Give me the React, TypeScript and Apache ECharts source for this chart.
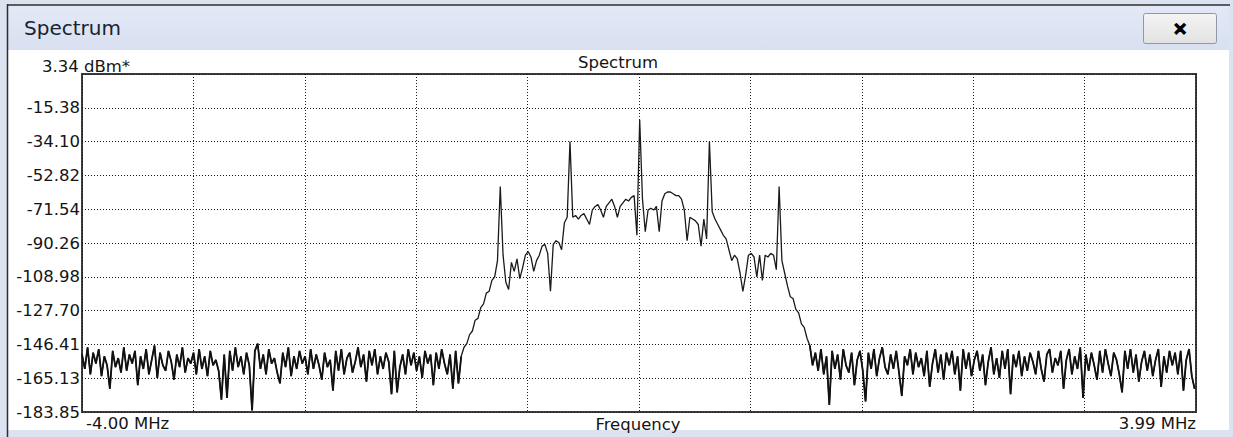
import React, { useEffect, useRef } from "react";
import * as echarts from "echarts";

// ---- data ----
const freqStart = -4.0; // MHz
const freqStep = 0.02; // MHz per bin
const freqMin = -4.0;
const freqMax = 3.99;
const levelMin = -183.85;
const levelMax = 3.34;
const levelUnit = "dBm*";
const freqUnit = "MHz";
const xAxisTitle = "Frequency";
const chartTitle = "Spectrum";
const yTickValues = [-183.85, -165.13, -146.41, -127.7, -108.98, -90.26, -71.54, -52.82, -34.1, -15.38];
const xLabelValues = [-4.0, 3.99];

// noise floor, -4.00 .. -1.28 MHz
const noiseLeft = [
  -152, -160, -148, -163, -151, -157, -149, -164, -153, -158,
  -171, -150, -159, -154, -162, -148, -161, -152, -157, -150,
  -169, -153, -160, -149, -163, -155, -147, -165, -151, -158,
  -161, -150, -156, -166, -152, -159, -148, -162, -154, -157,
  -151, -163, -149, -160, -153, -164, -150, -158, -155, -161,
  -177, -152, -176, -150, -161, -148, -159, -153, -163, -151,
  -158, -183, -150, -146, -160, -152, -163, -149, -157, -154,
  -162, -168, -151, -159, -148, -164, -153, -160, -150, -157,
  -153, -163, -149, -160, -152, -158, -166, -151, -159, -155,
  -172, -150, -161, -149, -163, -154, -151, -162, -156, -148,
  -159, -152, -167, -150, -158, -149, -163, -153, -160, -151,
  -156, -174, -150, -173, -159, -152, -163, -149, -158, -151,
  -161, -153, -165, -150, -157, -152, -169, -151, -160, -149,
  -157, -163, -152, -171, -150, -168, -153,
];

// occupied band, -1.26 .. 1.20 MHz
const bandLevels = [
  -148, -146, -141, -139, -133, -132, -126, -124, -118, -117,
  -111, -109, -100, -59, -97, -112, -116, -101, -106, -99,
  -110, -104, -97, -95, -98, -106, -100, -97, -92, -91,
  -96, -117, -91, -89, -90, -94, -79, -76, -34, -76,
  -75, -77, -75, -74, -77, -80, -72, -70, -69, -72,
  -76, -70, -68, -66, -70, -76, -70, -68, -66, -67,
  -65, -64, -86, -22, -66, -84, -72, -71, -72, -70,
  -84, -67, -63, -62, -62, -63, -64, -64, -66, -72,
  -89, -76, -77, -78, -80, -92, -77, -88, -34, -73,
  -77, -80, -83, -86, -88, -94, -100, -97, -99, -107,
  -117, -108, -97, -96, -98, -109, -97, -111, -97, -98,
  -96, -97, -105, -59, -100, -107, -114, -120, -121, -127,
  -129, -135, -137, -143,
];

// noise floor, 1.22 .. 3.98 MHz
const noiseRight = [
  -147, -158, -151, -161, -149, -163, -153, -180, -150, -160,
  -152, -166, -149, -158, -162, -151, -169, -155, -150, -161,
  -178, -151, -160, -149, -164, -154, -148, -159, -163, -152,
  -160, -150, -162, -175, -153, -158, -149, -163, -151, -159,
  -154, -164, -150, -170, -157, -149, -162, -152, -166, -151,
  -158, -150, -163, -153, -172, -149, -160, -151, -164, -155,
  -150, -161, -152, -169, -156, -148, -163, -154, -165, -150,
  -160, -149, -174, -152, -159, -150, -164, -153, -161, -151,
  -156, -163, -150, -160, -167, -152, -149, -162, -154, -158,
  -150, -171, -155, -149, -163, -153, -160, -148, -176, -152,
  -161, -151, -158, -166, -150, -162, -149, -157, -164, -151,
  -155, -163, -173, -150, -160, -149, -162, -152, -167, -156,
  -150, -161, -152, -164, -155, -149, -170, -153, -162, -150,
  -158, -151, -163, -150, -172, -155, -149, -164, -171,
];

const FONT = "DejaVu Sans";
const TXT = "#141414";

export default function App() {
  const ref = useRef<HTMLDivElement>(null);
  useEffect(() => {
    if (!ref.current) return;
    const chart = echarts.init(ref.current, undefined, { renderer: "svg" });
    const levels = [...noiseLeft, ...bandLevels, ...noiseRight];
    const freqOf = (i: number) => +(freqStart + i * freqStep).toFixed(2);
    const data = levels.map((v, i) => [freqOf(i), v]);
    const bandFrom = noiseLeft.length;
    const bandTo = noiseLeft.length + bandLevels.length;
    const noiseData = levels.map((v, i) =>
      i < bandFrom || i >= bandTo ? [freqOf(i), v] : [freqOf(i), null]
    );

    const option: any = {
      animation: false,
      backgroundColor: "#dbe2f0",
      textStyle: { fontFamily: FONT },
      title: {
        text: chartTitle,
        left: 618,
        top: 54,
        textAlign: "center",
        padding: 0,
        textStyle: { fontFamily: FONT, fontSize: 16.5, fontWeight: "normal", color: TXT },
      },
      graphic: [
        {
          type: "rect",
          z: -10,
          shape: { x: 8, y: 5, width: 1221, height: 45 },
          style: {
            fill: new echarts.graphic.LinearGradient(0, 0, 0, 1, [
              { offset: 0, color: "#e3e9f6" },
              { offset: 1, color: "#d8e0f1" },
            ]),
          },
        },
        {
          type: "rect",
          z: -10,
          shape: { x: 8, y: 50, width: 1221, height: 380 },
          style: { fill: "#ffffff" },
        },
        {
          type: "line",
          z: -5,
          shape: { x1: 7, y1: 5, x2: 1230, y2: 5 },
          style: { stroke: "#2e2e2e", lineWidth: 1.5 },
        },
        {
          type: "line",
          z: -5,
          shape: { x1: 7.5, y1: 4, x2: 7.5, y2: 437 },
          style: { stroke: "#2e2e2e", lineWidth: 1.5 },
        },
        {
          type: "rect",
          z: -4,
          shape: { x: 1143.5, y: 13.5, width: 73, height: 30, r: 2 },
          style: {
            fill: new echarts.graphic.LinearGradient(0, 0, 0, 1, [
              { offset: 0, color: "#f4f4f4" },
              { offset: 1, color: "#e2e2e2" },
            ]),
            stroke: "#8f98a6",
            lineWidth: 1,
          },
        },
        {
          type: "text",
          z: -3,
          x: 1180,
          y: 29,
          style: {
            text: "\u2715",
            fill: "#000",
            stroke: "#000",
            lineWidth: 1.6,
            font: `bold 17px ${FONT}`,
            align: "center",
            verticalAlign: "middle",
          },
        },
        {
          type: "text",
          z: -3,
          x: 24,
          y: 28,
          style: {
            text: chartTitle,
            fill: "#1b2230",
            font: `20px ${FONT}`,
            align: "left",
            verticalAlign: "middle",
          },
        },
        {
          type: "text",
          z: -3,
          x: 42,
          y: 66,
          style: {
            text: `${levelMax.toFixed(2)} ${levelUnit}`,
            fill: TXT,
            font: `16.5px ${FONT}`,
            align: "left",
            verticalAlign: "middle",
          },
        },
        {
          type: "text",
          z: -3,
          x: 638,
          y: 424,
          style: {
            text: xAxisTitle,
            fill: TXT,
            font: `16.5px ${FONT}`,
            align: "center",
            verticalAlign: "middle",
          },
        },
      ],
      grid: {
        left: 82,
        top: 74,
        right: 37,
        bottom: 25,
        containLabel: false,
        outerBoundsMode: "none",
        show: true,
        backgroundColor: "#ffffff",
        borderColor: "#3c3c3c",
        borderWidth: 2,
      },
      xAxis: [
        {
          type: "value",
          min: freqMin,
          max: freqMax,
          axisLine: { show: false },
          axisTick: { show: false },
          splitLine: { show: false },
          axisLabel: {
            customValues: xLabelValues,
            showMinLabel: true,
            showMaxLabel: true,
            alignMinLabel: "left",
            alignMaxLabel: "right",
            margin: 3,
            padding: [0, 0, 0, 4],
            fontFamily: FONT,
            fontSize: 16.5,
            color: TXT,
            formatter: (v: number) => `${v.toFixed(2)} ${freqUnit}`,
          },
        },
        {
          type: "value",
          min: 0,
          max: 10,
          interval: 1,
          position: "top",
          axisLine: { show: false },
          axisTick: { show: false },
          axisLabel: { show: false },
          splitLine: { show: true, lineStyle: { color: "#1a1a1a", width: 1, type: [1, 2] } },
        },
      ],
      yAxis: [
        {
          type: "value",
          min: levelMin,
          max: levelMax,
          axisLine: { show: false },
          axisTick: { show: false },
          splitLine: { show: false },
          axisLabel: {
            customValues: yTickValues,
            showMinLabel: true,
            margin: 2,
            fontFamily: FONT,
            fontSize: 16.5,
            color: TXT,
            formatter: (v: number) => v.toFixed(2),
          },
        },
        {
          type: "value",
          min: 0,
          max: 10,
          interval: 1,
          position: "right",
          axisLine: { show: false },
          axisTick: { show: false },
          axisLabel: { show: false },
          splitLine: { show: true, lineStyle: { color: "#1a1a1a", width: 1, type: [1, 2] } },
        },
      ],
      series: [
        {
          type: "line",
          xAxisIndex: 0,
          yAxisIndex: 0,
          data,
          showSymbol: false,
          symbol: "none",
          silent: true,
          z: 5,
          lineStyle: { color: "#1a1a1a", width: 1.3 },
        },
        {
          type: "line",
          xAxisIndex: 0,
          yAxisIndex: 0,
          data: noiseData,
          connectNulls: false,
          showSymbol: false,
          symbol: "none",
          silent: true,
          z: 6,
          lineStyle: { color: "#111111", width: 1.8 },
        },
      ],
    };
    chart.setOption(option);
    return () => chart.dispose();
  }, []);
  return (
    <div
      ref={ref}
      style={{ position: "absolute", left: 0, top: 0, width: 1233, height: 437 }}
    />
  );
}
